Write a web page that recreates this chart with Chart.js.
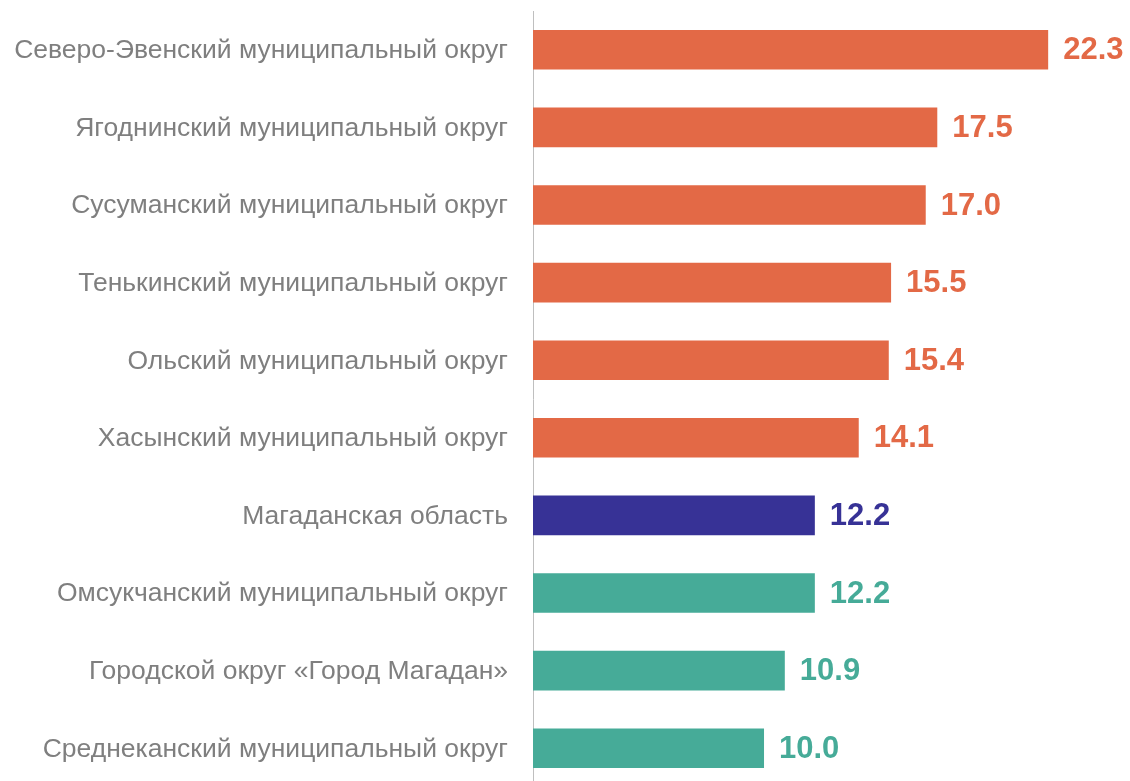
<!DOCTYPE html>
<html>
<head>
<meta charset="utf-8">
<script src="https://cdn.jsdelivr.net/npm/chart.js@4"></script>
<style>
  html, body { margin: 0; padding: 0; background: #fff; overflow: hidden; }
  #wrap { width: 1130px; height: 790px; }
</style>
</head>
<body>
<div id="wrap"><canvas id="barChart" width="1130" height="790"></canvas></div>
<script>
const categories = [
    'Северо-Эвенский муниципальный округ',
    'Ягоднинский муниципальный округ',
    'Сусуманский муниципальный округ',
    'Тенькинский муниципальный округ',
    'Ольский муниципальный округ',
    'Хасынский муниципальный округ',
    'Магаданская область',
    'Омсукчанский муниципальный округ',
    'Городской округ «Город Магадан»',
    'Среднеканский муниципальный округ'
];
const values = [22.3, 17.5, 17.0, 15.5, 15.4, 14.1, 12.2, 12.2, 10.9, 10.0];
const groups = ['high', 'high', 'high', 'high', 'high', 'high', 'region', 'low', 'low', 'low'];

const colorFor = {
    high: '#E36946',
    region: '#373296',
    low: '#46AB98'
};
const barColors = groups.map(g => colorFor[g]);

// value labels at the end of every bar
const valueLabels = {
    id: 'valueLabels',
    afterDatasetsDraw(chart) {
        const ctx = chart.ctx;
        const meta = chart.getDatasetMeta(0);
        ctx.save();
        ctx.font = 'bold 31px "Liberation Sans", Arial, sans-serif';
        ctx.textAlign = 'left';
        ctx.textBaseline = 'middle';
        meta.data.forEach((bar, i) => {
            ctx.fillStyle = barColors[i];
            ctx.fillText(values[i].toFixed(1), bar.x + 15, bar.y + 1);
        });
        ctx.restore();
    }
};

const ctx = document.getElementById('barChart').getContext('2d');
new Chart(ctx, {
    type: 'bar',
    data: {
        labels: categories,
        datasets: [{
            data: values,
            backgroundColor: barColors,
            borderWidth: 0,
            barPercentage: 0.51,
            categoryPercentage: 1.0
        }]
    },
    options: {
        indexAxis: 'y',
        responsive: false,
        animation: false,
        layout: {
            padding: { top: 11, bottom: 3, left: 0, right: 31 }
        },
        plugins: {
            legend: { display: false },
            tooltip: { enabled: false }
        },
        scales: {
            x: {
                min: 0,
                max: 24.5,
                display: false,
                grid: { display: false }
            },
            y: {
                grid: { display: false, drawTicks: false },
                border: { display: true, color: '#BFBFBF', width: 1 },
                ticks: {
                    color: '#7F7F7F',
                    padding: 25,
                    labelOffset: 1,
                    font: { family: '"Liberation Sans", Arial, sans-serif', size: 26.5 }
                },
                afterFit(scale) {
                    scale.width = 533;
                    scale.paddingTop = 0;
                    scale.paddingBottom = 0;
                }
            }
        }
    },
    plugins: [valueLabels]
});
</script>
</body>
</html>
